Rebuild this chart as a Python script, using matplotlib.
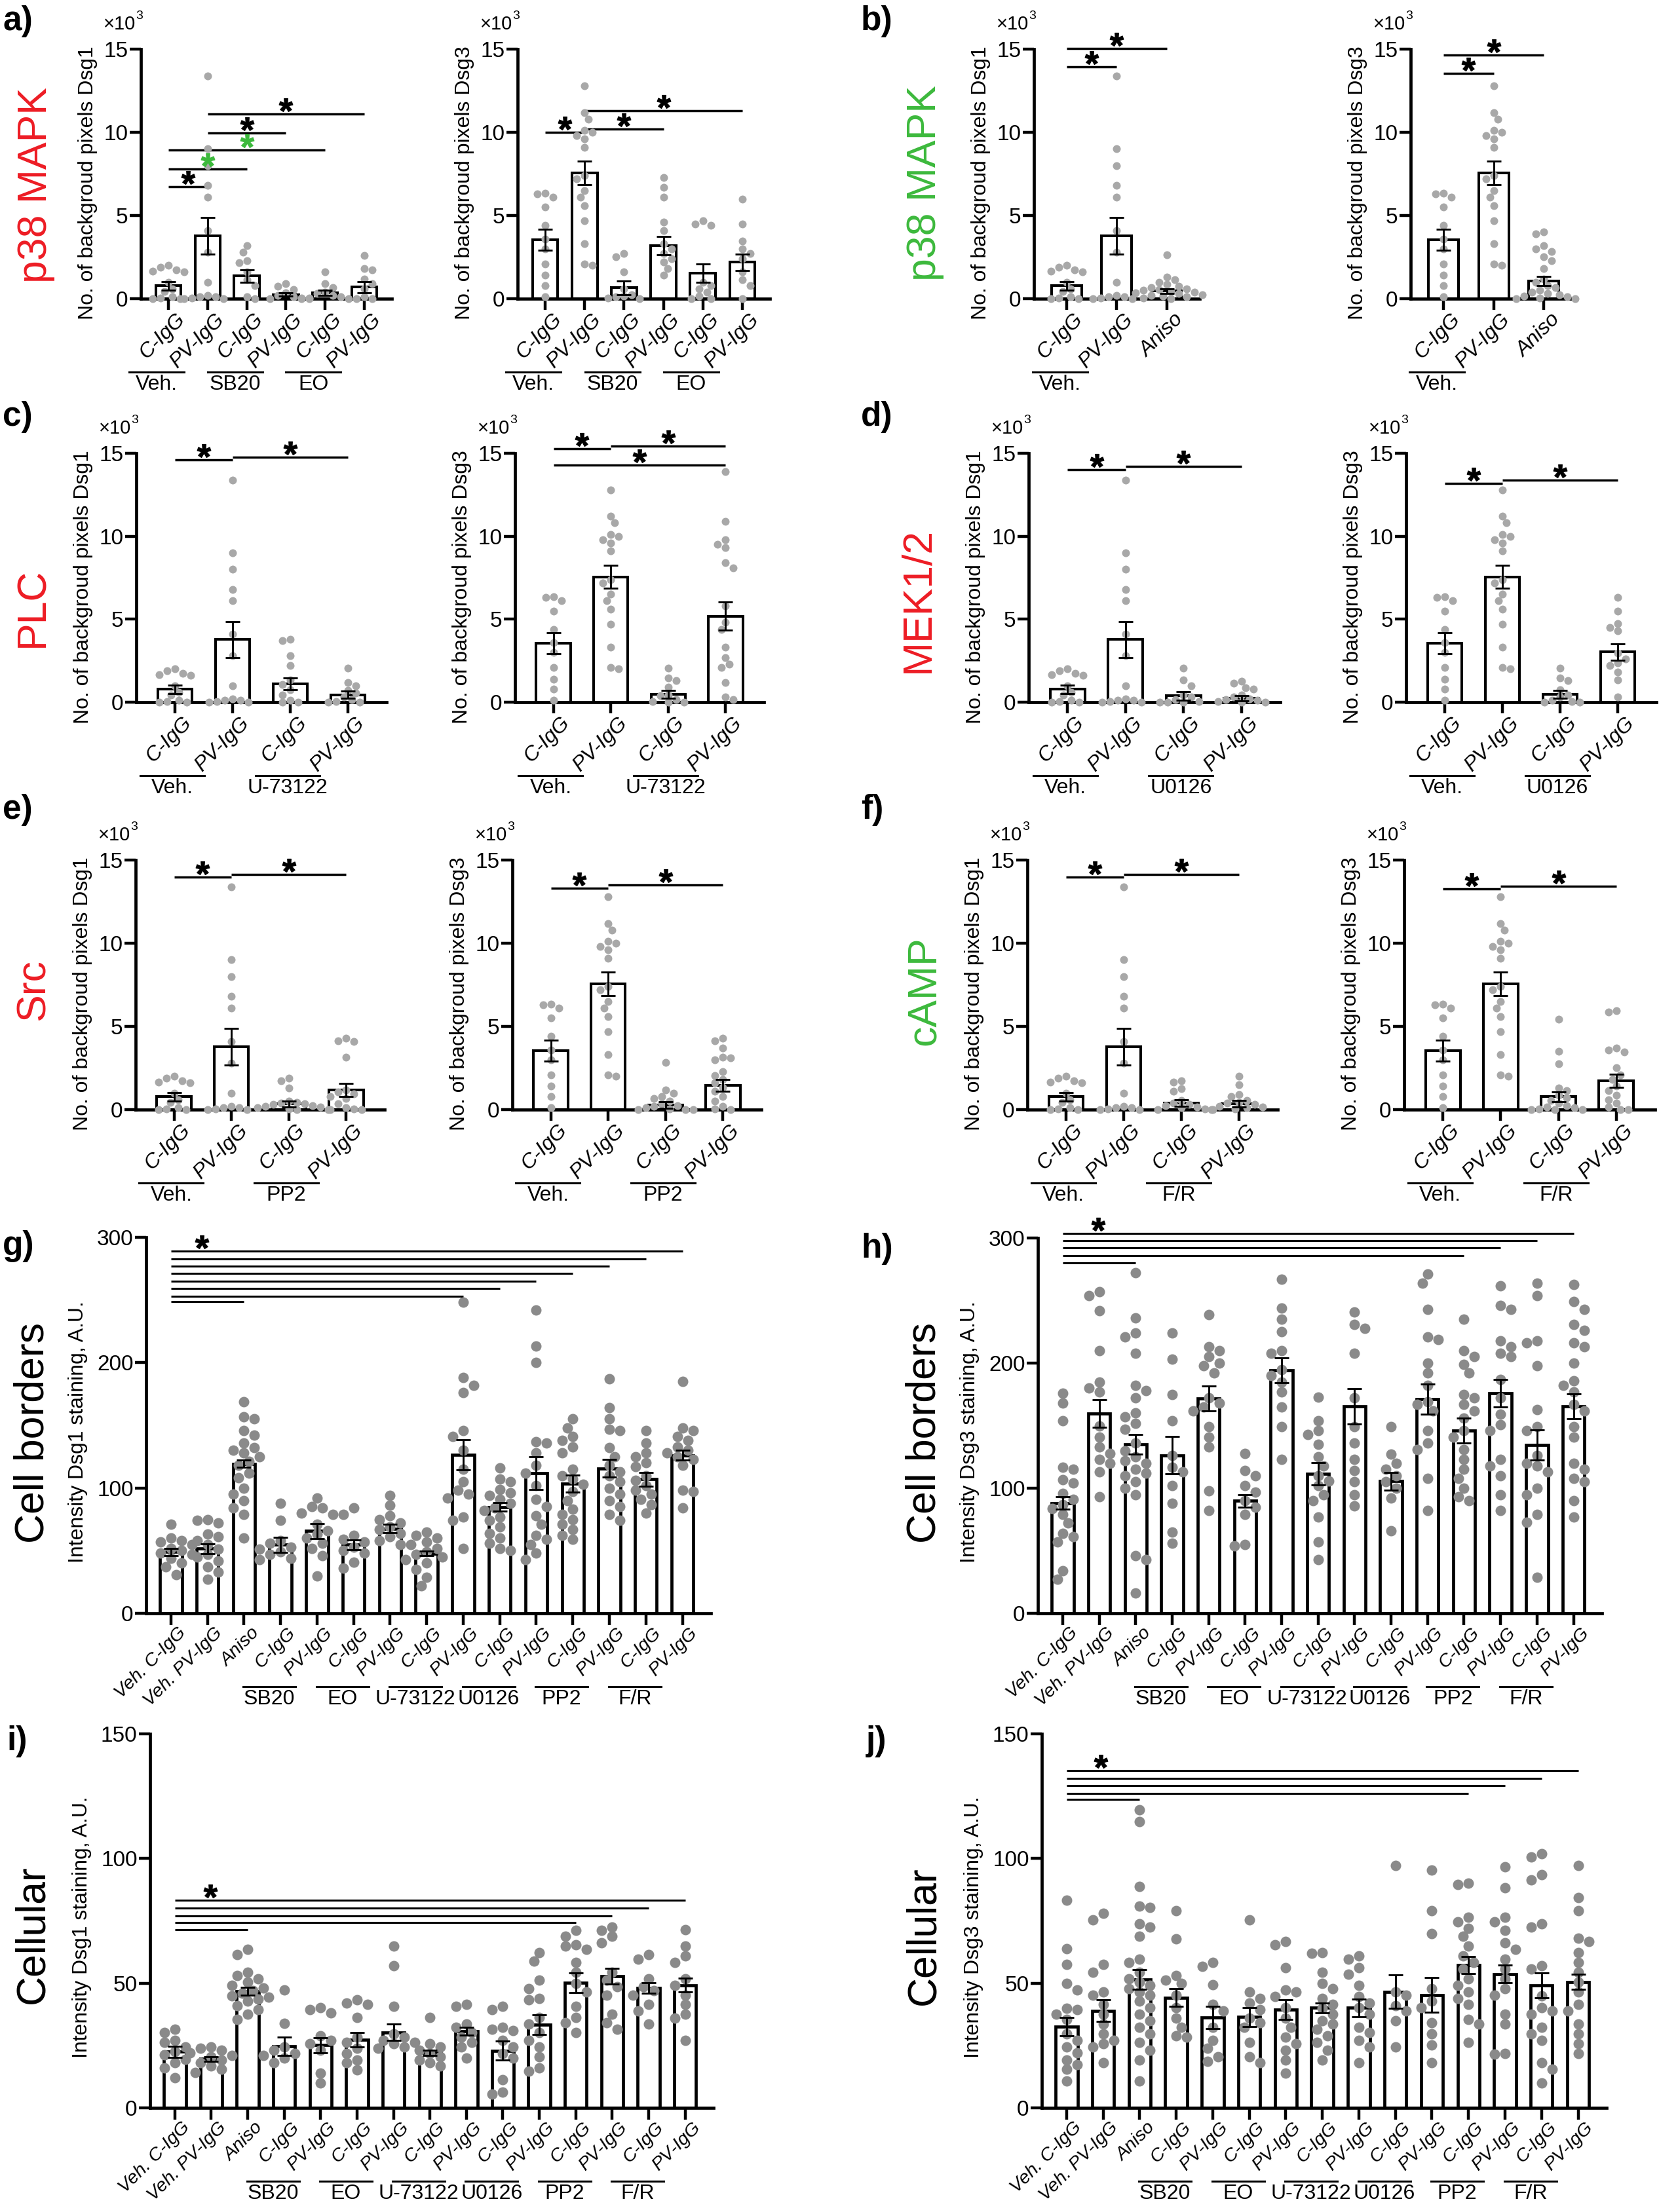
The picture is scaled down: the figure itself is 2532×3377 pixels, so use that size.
import numpy as np
import matplotlib
matplotlib.use("Agg")
import matplotlib.pyplot as plt
from matplotlib.transforms import ScaledTranslation, blended_transform_factory
from matplotlib.textpath import TextPath
from matplotlib.font_manager import FontProperties
from matplotlib.path import Path

W, H, DPI = 2532, 3377, 100
RED, GREEN = "#ED1C24", "#3CB93C"
SANS = ["Liberation Sans", "DejaVu Sans"]
NARROW = ["Liberation Sans Narrow", "Liberation Sans", "DejaVu Sans"]
plt.rcParams["font.family"] = SANS

# ---------------------------------------------------------------------------
# data: background pixels (x10^3), shared vehicle controls
# ---------------------------------------------------------------------------
veh_c_dsg1 = [2.0, 1.9, 1.75, 1.65, 1.6, 1.0, 0.6, 0.45, 0.1, 0.05, 0.0, 0.0]
veh_pv_dsg1 = [13.4, 9.0, 8.0, 6.8, 6.1, 4.1, 2.8, 1.0, 0.2, 0.1, 0.1, 0.05, 0.0, 0.0]
veh_c_dsg3 = [6.35, 6.3, 6.1, 5.5, 4.4, 3.6, 3.0, 2.1, 1.4, 0.8, 0.1]
veh_pv_dsg3 = [12.8, 11.2, 10.8, 10.1, 10.0, 9.8, 9.6, 9.1, 7.4, 7.2, 6.5, 6.1,
               5.6, 4.7, 3.3, 2.1, 2.0]
veh_means_dsg1 = [0.77, 3.77]
veh_sems_dsg1 = [0.27, 1.1]
veh_means_dsg3 = [3.55, 7.55]
veh_sems_dsg3 = [0.62, 0.7]

# a) p38 MAPK inhibitors
a_dsg1_means = veh_means_dsg1 + [1.36, 0.25, 0.36, 0.69]
a_dsg1_sems = veh_sems_dsg1 + [0.38, 0.1, 0.15, 0.35]
a_dsg1_dots = [veh_c_dsg1, veh_pv_dsg1,
               [3.2, 2.8, 2.3, 2.15, 1.6, 1.15, 0.8, 0.1, 0.0],
               [0.9, 0.75, 0.55, 0.35, 0.2, 0.1, 0.05, 0.0, 0.0],
               [1.6, 0.9, 0.65, 0.4, 0.3, 0.2, 0.1, 0.05, 0.0, 0.0],
               [2.6, 1.8, 1.75, 1.2, 0.9, 0.6, 0.1, 0.0, 0.0]]
a_dsg3_means = veh_means_dsg3 + [0.65, 3.19, 1.52, 2.19]
a_dsg3_sems = veh_sems_dsg3 + [0.4, 0.55, 0.55, 0.48]
a_dsg3_dots = [veh_c_dsg3, veh_pv_dsg3,
               [2.7, 2.5, 1.6, 0.6, 0.25, 0.15, 0.1, 0.05, 0.0],
               [7.3, 6.7, 6.1, 4.6, 4.1, 3.3, 3.0, 2.7, 2.4, 2.2, 1.8, 1.4],
               [4.7, 4.5, 4.4, 1.0, 0.8, 0.6, 0.4, 0.15, 0.0, 0.0],
               [6.0, 4.5, 3.45, 3.0, 2.7, 2.4, 1.6, 1.15, 0.8, 0.0]]
a_dsg1_sig = [(0, 1, 6.73, "k"), (0, 2, 7.81, GREEN), (0, 4, 8.95, GREEN),
              (1, 3, 9.98, "k"), (1, 5, 11.1, "k")]
a_dsg3_sig = [(0, 1, 10.0, "k"), (1, 3, 10.2, "k"), (1, 5, 11.3, "k")]

# b) p38 MAPK activation (anisomycin)
b_dsg1_means = veh_means_dsg1 + [0.46]
b_dsg1_sems = veh_sems_dsg1 + [0.15]
b_dsg1_dots = [veh_c_dsg1, veh_pv_dsg1,
               [2.65, 1.3, 1.15, 1.0, 0.85, 0.75, 0.65, 0.6, 0.55, 0.5, 0.45, 0.4,
                0.35, 0.3, 0.25, 0.2, 0.15, 0.1, 0.05, 0.0]]
b_dsg3_means = veh_means_dsg3 + [1.06]
b_dsg3_sems = veh_sems_dsg3 + [0.27]
b_dsg3_dots = [veh_c_dsg3, veh_pv_dsg3,
               [4.0, 3.9, 3.2, 3.0, 2.85, 2.5, 2.3, 1.8, 1.2, 1.0, 0.8, 0.65, 0.5,
                0.4, 0.3, 0.25, 0.15, 0.1, 0.05, 0.0, 0.0]]
b_dsg1_sig = [(0, 1, 13.94, "k"), (0, 2, 15.03, "k")]
b_dsg3_sig = [(0, 1, 13.56, "k"), (0, 2, 14.64, "k")]

# c) PLC (U-73122)
c_dsg1_means = veh_means_dsg1 + [1.1, 0.45]
c_dsg1_sems = veh_sems_dsg1 + [0.35, 0.22]
c_dsg1_dots = [veh_c_dsg1, veh_pv_dsg1,
               [3.8, 3.7, 2.8, 2.2, 1.35, 1.05, 0.75, 0.45, 0.1, 0.0, 0.0],
               [2.05, 1.2, 1.0, 0.7, 0.55, 0.3, 0.15, 0.05, 0.0, 0.0]]
c_dsg3_means = veh_means_dsg3 + [0.48, 5.18]
c_dsg3_sems = veh_sems_dsg3 + [0.24, 0.85]
c_dsg3_dots = [veh_c_dsg3, veh_pv_dsg3,
               [2.05, 1.45, 1.3, 0.9, 0.45, 0.4, 0.15, 0.05, 0.0, 0.0],
               [13.9, 10.9, 9.8, 9.5, 9.3, 8.4, 8.1, 5.8, 4.8, 4.4, 3.3, 2.7, 2.3,
                2.1, 1.2, 0.3, 0.15]]
c_dsg1_sig = [(0, 1, 14.62, "k"), (1, 3, 14.77, "k")]
c_dsg3_sig = [(0, 1, 15.29, "k"), (1, 3, 15.45, "k"), (0, 3, 14.3, "k")]

# d) MEK1/2 (U0126)
d_dsg1_means = veh_means_dsg1 + [0.38, 0.23]
d_dsg1_sems = veh_sems_dsg1 + [0.25, 0.17]
d_dsg1_dots = [veh_c_dsg1, veh_pv_dsg1,
               [2.05, 1.35, 1.0, 0.45, 0.3, 0.15, 0.05, 0.0, 0.0, 0.0],
               [1.25, 1.15, 0.85, 0.8, 0.45, 0.3, 0.2, 0.15, 0.1, 0.05, 0.0, 0.0]]
d_dsg3_means = veh_means_dsg3 + [0.48, 3.02]
d_dsg3_sems = veh_sems_dsg3 + [0.24, 0.5]
d_dsg3_dots = [veh_c_dsg3, veh_pv_dsg3,
               [2.05, 1.45, 1.3, 0.75, 0.45, 0.3, 0.1, 0.05, 0.0, 0.0],
               [6.3, 5.5, 4.75, 4.5, 4.3, 2.95, 2.6, 2.35, 2.2, 1.8, 1.35, 0.3]]
d_dsg1_sig = [(0, 1, 14.0, "k"), (1, 3, 14.2, "k")]
d_dsg3_sig = [(0, 1, 13.2, "k"), (1, 3, 13.4, "k")]

# e) Src (PP2)
e_dsg1_means = veh_means_dsg1 + [0.34, 1.17]
e_dsg1_sems = veh_sems_dsg1 + [0.18, 0.4]
e_dsg1_dots = [veh_c_dsg1, veh_pv_dsg1,
               [1.9, 1.75, 1.3, 0.5, 0.45, 0.4, 0.35, 0.3, 0.25, 0.2, 0.15, 0.1,
                0.05, 0.0, 0.0],
               [4.3, 4.15, 4.1, 3.15, 1.2, 1.05, 0.95, 0.8, 0.65, 0.35, 0.1, 0.05,
                0.0, 0.0]]
e_dsg3_means = veh_means_dsg3 + [0.27, 1.47]
e_dsg3_sems = veh_sems_dsg3 + [0.2, 0.35]
e_dsg3_dots = [veh_c_dsg3, veh_pv_dsg3,
               [2.85, 1.2, 1.0, 0.8, 0.65, 0.5, 0.35, 0.25, 0.2, 0.1, 0.05, 0.0,
                0.0, 0.0],
               [4.3, 4.15, 3.7, 3.15, 3.1, 3.0, 2.3, 2.05, 1.8, 1.6, 1.35, 1.1, 0.8,
                0.5, 0.2, 0.05, 0.0]]
e_dsg1_sig = [(0, 1, 13.96, "k"), (1, 3, 14.14, "k")]
e_dsg3_sig = [(0, 1, 13.32, "k"), (1, 3, 13.52, "k")]

# f) cAMP (F/R)
f_dsg1_means = veh_means_dsg1 + [0.39, 0.36]
f_dsg1_sems = veh_sems_dsg1 + [0.2, 0.2]
f_dsg1_dots = [veh_c_dsg1, veh_pv_dsg1,
               [1.75, 1.65, 1.25, 1.1, 0.55, 0.4, 0.3, 0.25, 0.15, 0.1, 0.05, 0.0,
                0.0],
               [2.0, 1.5, 0.9, 0.8, 0.55, 0.45, 0.4, 0.3, 0.2, 0.15, 0.1, 0.05, 0.0]]
f_dsg3_means = veh_means_dsg3 + [0.78, 1.72]
f_dsg3_sems = veh_sems_dsg3 + [0.3, 0.4]
f_dsg3_dots = [veh_c_dsg3, veh_pv_dsg3,
               [5.45, 3.5, 2.75, 1.3, 1.15, 0.85, 0.7, 0.55, 0.4, 0.25, 0.15, 0.1,
                0.05, 0.0, 0.0, 0.0],
               [5.95, 5.85, 3.7, 3.6, 3.45, 2.5, 2.1, 1.8, 1.4, 1.15, 0.85, 0.6,
                0.4, 0.15, 0.0, 0.0]]
f_dsg1_sig = [(0, 1, 13.96, "k"), (1, 3, 14.14, "k")]
f_dsg3_sig = [(0, 1, 13.25, "k"), (1, 3, 13.44, "k")]

# ---------------------------------------------------------------------------
# data: staining intensity (A.U.), 15 conditions
# ---------------------------------------------------------------------------
big_labels = ["Veh. C-IgG", "Veh. PV-IgG", "Aniso"] + ["C-IgG", "PV-IgG"] * 6
big_groups = [("SB20", 3, 4), ("EO", 5, 6), ("U-73122", 7, 8),
              ("U0126", 9, 10), ("PP2", 11, 12), ("F/R", 13, 14)]

g_means = [49, 51.6, 119.4, 54.7, 65.8, 54.7, 67.6, 47.8, 126.6, 84.8, 111.7,
           103.5, 115.6, 107.1, 126.1]
g_sems = [3, 4, 3, 6, 6, 4, 3.5, 2, 12, 3.5, 13, 7, 7, 5.5, 4]
g_dots = [
    [71, 60, 58, 57, 55, 52, 50, 48, 47, 44, 40, 37, 31],
    [75, 74, 72, 63, 61, 58, 55, 51, 47, 45, 42, 37, 33, 27],
    [169, 157, 155, 146, 142, 136, 132, 130, 128, 125, 121, 118, 112, 108, 100,
     95, 90, 84, 79, 60],
    [88, 74, 58, 56, 53, 51, 49, 47, 44, 43],
    [92, 85, 84, 80, 79, 71, 66, 63, 60, 56, 52, 46, 30],
    [84, 79, 62, 59, 57, 53, 50, 48, 41, 36],
    [94, 86, 78, 75, 72, 69, 67, 64, 61, 58, 55],
    [65, 62, 60, 57, 55, 52, 49, 47, 45, 43, 40, 35, 29, 22],
    [248, 188, 182, 176, 146, 141, 130, 115, 105, 98, 95, 92, 77, 74, 52],
    [116, 107, 105, 99, 96, 94, 91, 88, 84, 82, 77, 74, 69, 64, 60, 56, 52, 50],
    [242, 213, 200, 137, 136, 128, 118, 112, 102, 91, 85, 78, 71, 62, 59, 55,
     48, 43],
    [155, 148, 141, 138, 133, 128, 115, 110, 107, 103, 97, 90, 83, 79, 75, 71,
     67, 62, 59],
    [187, 164, 155, 147, 146, 132, 125, 118, 113, 110, 105, 100, 95, 90, 85, 79,
     74],
    [146, 136, 128, 125, 120, 117, 110, 106, 102, 98, 95, 91, 87, 80],
    [185, 148, 146, 141, 138, 133, 130, 128, 125, 123, 118, 98, 97, 84],
]
g_sig = [(0, 14, 289), (0, 13, 283), (0, 12, 277), (0, 11, 271), (0, 10, 265),
         (0, 9, 259), (0, 8, 253), (0, 2, 249)]

h_means = [88.2, 159.5, 135, 126.3, 171.9, 90, 194.2, 111.4, 165.4, 105.5,
           171.3, 146, 175.7, 134.5, 165.4]
h_sems = [5, 11, 8, 15, 10, 5, 10, 9, 14, 7, 12, 10, 11, 12, 10]
h_dots = [
    [176, 168, 154, 117, 115, 107, 104, 96, 91, 87, 84, 79, 72, 64, 61, 57, 34, 27],
    [257, 254, 242, 210, 185, 180, 177, 150, 141, 133, 128, 123, 120, 113, 93],
    [272, 236, 224, 221, 208, 182, 178, 172, 160, 157, 152, 147, 136, 130, 125,
     122, 120, 115, 112, 110, 105, 100, 95, 46, 43, 16],
    [224, 203, 175, 154, 126, 117, 113, 102, 88, 65, 56],
    [239, 213, 210, 205, 200, 198, 192, 172, 168, 165, 162, 149, 141, 133, 98, 82],
    [128, 114, 110, 102, 97, 90, 85, 79, 55, 54],
    [267, 244, 235, 225, 210, 208, 195, 190, 185, 177, 165, 149, 123],
    [173, 154, 146, 143, 135, 125, 118, 110, 106, 102, 95, 90, 77, 57, 43],
    [241, 231, 228, 208, 172, 149, 136, 123, 114, 105, 95, 86],
    [149, 127, 120, 115, 110, 105, 100, 92, 66],
    [271, 264, 243, 221, 219, 200, 192, 182, 169, 167, 162, 146, 136, 131, 108, 82],
    [235, 210, 205, 199, 192, 175, 172, 167, 162, 156, 146, 141, 131, 123, 115,
     108, 100, 93, 90],
    [262, 246, 243, 218, 213, 208, 205, 187, 172, 159, 151, 146, 123, 118, 110,
     95, 82],
    [264, 254, 218, 216, 198, 163, 149, 146, 126, 120, 118, 113, 100, 95, 79, 73, 29],
    [263, 249, 243, 231, 226, 216, 213, 200, 186, 182, 177, 167, 162, 149, 141,
     120, 115, 108, 105, 90, 77],
]
h_sig = [(0, 14, 303.8), (0, 13, 297.9), (0, 12, 292.3), (0, 11, 285.8),
         (0, 2, 279.9)]

i_means = [22.5, 19.6, 46.8, 24.7, 25.1, 27.3, 30.3, 22.1, 30.7, 22.9, 33.3,
           50.2, 52.8, 48.1, 49.2]
i_sems = [2.3, 1, 1.5, 3.7, 3, 3, 3.3, 1, 1.6, 3.8, 3.9, 3.9, 3.1, 2, 2.8]
i_dots = [
    [31.6, 30.3, 27.1, 26.4, 24.5, 22.5, 21.2, 19.5, 18.0, 16.0, 12.1],
    [24.5, 23.8, 23.2, 22.0, 21.0, 20.6, 19.3, 18.0, 16.7, 15.4, 14.3],
    [63.5, 61.5, 54.4, 53, 51.8, 50.5, 49.2, 48, 47, 46, 45, 44.5, 43.5, 42.7,
     41, 39.5, 37.5, 35.5],
    [47.2, 33.8, 24.5, 23.2, 21.9, 21.0, 19.9, 18.2],
    [40.1, 39.5, 38.1, 29, 27, 25.8, 23.2, 14.0, 10.1],
    [43.3, 42.0, 41.4, 36.2, 28.4, 26.4, 23.8, 21.9, 19.3, 18.0, 15.3],
    [65, 57, 40.7, 29.7, 28.4, 27.1, 26.4, 25.8, 24.5, 23.8],
    [36.2, 25.8, 24.5, 23.2, 21.9, 20.6, 19.3, 18.0, 16.7],
    [41.6, 40.7, 33.6, 32.3, 30.3, 28.4, 26.4, 24.5, 19.9],
    [40.7, 39.4, 32.3, 31.6, 31.0, 27.1, 24.5, 21.9, 20, 11.4, 6.2, 5.6],
    [62.2, 58.9, 51.1, 47.9, 44.0, 43.3, 36.2, 33.6, 30.3, 27.1, 24.5, 20.6,
     16.0, 14.7],
    [71.3, 68.7, 65.4, 64.8, 63.5, 58.3, 54.4, 49.8, 46.6, 40.7, 36.2, 34.2, 30.3],
    [72.6, 71.3, 68.7, 66.1, 54.4, 51.1, 48.5, 45.3, 37.5, 34.2, 31.6],
    [61.5, 59.6, 51.8, 48.5, 47, 45.3, 41.4, 38.8, 33.6],
    [71.5, 64.8, 60.9, 58.3, 51.8, 49.2, 45.3, 41.4, 37.5, 36, 27.1],
]
i_sig = [(0, 14, 83.3), (0, 13, 80.1), (0, 12, 77.1), (0, 11, 74.3), (0, 2, 71.5)]

j_means = [32.5, 39, 51.5, 44.2, 36.2, 36.4, 39.4, 40.1, 40.1, 46.6, 45.3, 57.2,
           53.7, 49.2, 50.5]
j_sems = [3.7, 4.3, 4, 3.6, 4.5, 3.9, 4, 2, 3.5, 6.8, 7, 3.4, 3.5, 5, 3]
j_dots = [
    [83.3, 63.9, 57.6, 49.8, 47.2, 40, 39.4, 37.5, 35.5, 29.7, 27.1, 24.5, 22,
     19.3, 17.3, 15.4, 10.8],
    [78.1, 75.5, 57.6, 54.4, 46.6, 45.3, 41.4, 37.5, 33.6, 29.7, 27.1, 25.8,
     24.5, 18.0],
    [119.4, 114.9, 88.9, 81.0, 80.3, 73.9, 72.6, 68.7, 59.6, 58.3, 54.4, 51.8,
     50.5, 49.2, 47.9, 46.6, 45.3, 42.7, 40.1, 37.5, 34.9, 32.3, 29.7, 26.4,
     23.2, 19.3, 10.8],
    [79.1, 67.8, 53.1, 51.1, 49.8, 45.3, 40.1, 36, 32.3, 29.0, 28.4],
    [58.3, 56.7, 49.4, 41.4, 38.8, 32.3, 27.1, 23.8, 20.6, 18.6],
    [75.5, 46.6, 44.0, 42.0, 39.4, 36, 34.2, 32.3, 26.4, 20.6, 18.0],
    [66.7, 65.4, 56.3, 47.2, 46.6, 44.6, 40.1, 36, 32.3, 28.4, 25.8, 23.2, 19.3,
     14.0],
    [62.2, 62, 54.4, 49.8, 47.9, 44.0, 41.4, 40, 37.5, 35, 33.6, 31.6, 29, 26.4,
     23.2, 19.3],
    [60.9, 59.6, 56.3, 53.7, 49.2, 44.6, 42, 40.1, 37.5, 32.3, 30.3, 27.1, 24.5,
     18.0],
    [97.3, 46.6, 45.3, 41, 38.8, 34.9, 24.5],
    [95.4, 79.1, 70.0, 47.9, 42.7, 40.1, 34.2, 29.7, 25.1, 18.0],
    [90.2, 89.5, 76.5, 74.5, 72, 68.7, 64.8, 61, 58.3, 55.7, 51.8, 49.2, 46.6,
     44, 41.4, 35.5, 33.6, 26.4],
    [96.7, 88.2, 76.5, 74.5, 71.3, 66.1, 63.5, 59.6, 55.7, 51.8, 47.9, 45.3,
     37.5, 33.6, 21.9, 21.5],
    [101.9, 100.5, 93.4, 91.5, 73.9, 72.6, 57.0, 55.7, 45, 40.1, 38.8, 37.5,
     32.3, 29.7, 27.1, 18.0, 15.4, 10.1],
    [97.3, 84.3, 79.1, 68.0, 66.7, 62.2, 58.3, 54.4, 50.5, 46.6, 41.4, 38.8,
     33.6, 29.7, 25.8, 21.9],
]
j_sig = [(0, 14, 135.3), (0, 13, 132.2), (0, 12, 129.2), (0, 11, 126.2),
         (0, 2, 123.6)]

# ---------------------------------------------------------------------------
fig = plt.figure(figsize=(W / DPI, H / DPI), dpi=DPI)
fig.patch.set_facecolor("white")

# asterisk glyph as a marker path, centred on its ink box
_tp = TextPath((0, 0), "*", size=1, prop=FontProperties(family=NARROW, weight="bold"))
_ext = _tp.get_extents()
_v = _tp.vertices - [(_ext.x0 + _ext.x1) / 2, (_ext.y0 + _ext.y1) / 2]
_v[_tp.codes == Path.CLOSEPOLY] = 0.0
STAR = Path(_v, _tp.codes)


def shift(dx, dy):
    # pixel offset, dy > 0 means downwards
    return ScaledTranslation(dx / DPI, -dy / DPI, fig.dpi_scale_trans)


def swarm(vals, ppy, d):
    # simple deterministic beeswarm, returns x offsets in pixels
    placed, offs = [], []
    for n, v in enumerate(vals):
        y = v * ppy
        k, found = 0, None
        while found is None:
            if k == 0:
                cands = [0.0]
            else:
                s = 1 if n % 2 == 0 else -1
                cands = [s * k * 0.5 * d, -s * k * 0.5 * d]
            for c in cands:
                if all((c - px) ** 2 + (y - py) ** 2 >= (0.92 * d) ** 2
                       for px, py in placed):
                    found = c
                    break
            k += 1
        placed.append((found, y))
        offs.append(found)
    return np.array(offs)


def star(ax, x, y, color):
    ax.plot([x], [y], marker=STAR, ms=15, mfc=color, mec=color, mew=0.8,
            ls="none", transform=ax.transData + shift(0, -14), clip_on=False,
            zorder=5)


def bar_panel(x0, x1, top, bottom, xlim, ymax, yticks, means, sems, dots,
              xlabels, groups, sigs, ylabel, big=False, xstar=None):
    ax = fig.add_axes([x0 / W, 1 - bottom / H, (x1 - x0) / W, (bottom - top) / H])
    ax.patch.set_visible(False)
    n = len(means)
    pos = np.arange(n)
    ppx = (x1 - x0) / (xlim[1] - xlim[0])
    ppy = (bottom - top) / ymax
    axh = bottom - top

    bw = 0.6 if (big or n != 6) else 0.64
    ax.bar(pos, means, width=bw, color="white", edgecolor="black",
           lw=3.4 if big else 2.9, zorder=2)
    d = 16 if big else 12
    dot_c = "#8A8A8A" if big else "#A8A8A8"
    for i, vals in enumerate(dots):
        off = swarm(vals, ppy, d)
        ax.scatter(i + off / ppx, vals, s=(d * 0.72) ** 2, color=dot_c, lw=0,
                   zorder=3, clip_on=False)
    ax.errorbar(pos, means, yerr=sems, fmt="none", ecolor="black", elinewidth=2.1,
                capsize=8, capthick=2.1, zorder=4)

    ax.set_xlim(*xlim)
    ax.set_ylim(0, ymax)
    for s in ("top", "right"):
        ax.spines[s].set_visible(False)
    for s in ("left", "bottom"):
        ax.spines[s].set_linewidth(3.4)
    ax.set_yticks(yticks)
    ax.set_yticklabels([str(t) for t in yticks], family=NARROW, fontsize=24)
    ax.tick_params(axis="y", length=12, width=3.2, pad=2)
    ax.set_xticks(pos)
    ax.set_xticklabels([])
    ax.tick_params(axis="x", length=13 if big else 12, width=3.2)

    # rotated italic category labels
    tr = blended_transform_factory(ax.transData, ax.transAxes)
    fs_x = 20.5 if big else 23
    for i, lab in enumerate(xlabels):
        ax.text(i, 0, lab, transform=tr + shift(10, 17), rotation=45, ha="right",
                va="top", rotation_mode="anchor", style="italic", fontsize=fs_x)

    # treatment group lines under the labels
    half = 40 if big else (42 if n in (3, 6) else 49)
    dx = (-45 if big else -48) / ppx
    for name, a, b in groups:
        xm = (a + b) / 2 + dx
        ax.plot([xm - half / ppx, xm + half / ppx], [-112 / axh] * 2, transform=tr,
                color="black", lw=2.2, clip_on=False)
        ax.text(xm, -131 / axh, name, transform=tr, ha="center", va="center",
                family=NARROW, fontsize=23)

    # significance brackets
    for sg in sigs:
        i, j, y = sg[0], sg[1], sg[2]
        c = sg[3] if len(sg) > 3 else "black"
        ax.plot([i, j], [y, y], color="black", lw=2.2 if big else 2.5,
                clip_on=False, solid_capstyle="butt")
        if not big:
            star(ax, (i + j) / 2, y, c)
    if big:
        star(ax, xstar, sigs[0][2], "black")

    # y label
    fig.text((x0 - (104 if big else 81)) / W,
             1 - ((top + bottom) / 2 + (10 if big else 14)) / H,
             ylabel, rotation=90, ha="center", va="center", fontsize=23)
    if not big:
        t = fig.text((x0 - 57) / W, 1 - (top - 38) / H, "×10", ha="left",
                     va="center", family=NARROW, fontsize=21)
        ax.annotate("3", xy=(1, 0.95), xycoords=t, ha="left", va="center",
                    family=NARROW, fontsize=14)
    return ax


YL1 = "No. of backgroud pixels Dsg1"
YL3 = "No. of backgroud pixels Dsg3"
T15 = [0, 5, 10, 15]
lab6 = ["C-IgG", "PV-IgG"] * 3
lab4 = ["C-IgG", "PV-IgG"] * 2
lab3 = ["C-IgG", "PV-IgG", "Aniso"]
xl6, xl3, xl4, xlb = (-0.7, 5.7), (-0.65, 2.66), (-0.67, 3.67), (-0.68, 14.78)

# row 1
grp_a = [("Veh.", 0, 1), ("SB20", 2, 3), ("EO", 4, 5)]
bar_panel(215, 598, 75, 456, xl6, 15, T15, a_dsg1_means, a_dsg1_sems, a_dsg1_dots,
          lab6, grp_a, a_dsg1_sig, YL1)
bar_panel(790, 1175, 75, 456, xl6, 15, T15, a_dsg3_means, a_dsg3_sems, a_dsg3_dots,
          lab6, grp_a, a_dsg3_sig, YL3)
bar_panel(1578, 1831, 75, 456, xl3, 15, T15, b_dsg1_means, b_dsg1_sems, b_dsg1_dots,
          lab3, [("Veh.", 0, 1)], b_dsg1_sig, YL1)
bar_panel(2153, 2407, 75, 456, xl3, 15, T15, b_dsg3_means, b_dsg3_sems, b_dsg3_dots,
          lab3, [("Veh.", 0, 1)], b_dsg3_sig, YL3)

# row 2
bar_panel(208, 590, 692, 1072, xl4, 15, T15, c_dsg1_means, c_dsg1_sems, c_dsg1_dots,
          lab4, [("Veh.", 0, 1), ("U-73122", 2, 3)], c_dsg1_sig, YL1)
bar_panel(786, 1166, 692, 1072, xl4, 15, T15, c_dsg3_means, c_dsg3_sems, c_dsg3_dots,
          lab4, [("Veh.", 0, 1), ("U-73122", 2, 3)], c_dsg3_sig, YL3)
bar_panel(1570, 1954, 692, 1072, xl4, 15, T15, d_dsg1_means, d_dsg1_sems, d_dsg1_dots,
          lab4, [("Veh.", 0, 1), ("U0126", 2, 3)], d_dsg1_sig, YL1)
bar_panel(2146, 2528, 692, 1072, xl4, 15, T15, d_dsg3_means, d_dsg3_sems, d_dsg3_dots,
          lab4, [("Veh.", 0, 1), ("U0126", 2, 3)], d_dsg3_sig, YL3)

# row 3
bar_panel(207, 587, 1313, 1694, xl4, 15, T15, e_dsg1_means, e_dsg1_sems, e_dsg1_dots,
          lab4, [("Veh.", 0, 1), ("PP2", 2, 3)], e_dsg1_sig, YL1)
bar_panel(782, 1162, 1313, 1694, xl4, 15, T15, e_dsg3_means, e_dsg3_sems, e_dsg3_dots,
          lab4, [("Veh.", 0, 1), ("PP2", 2, 3)], e_dsg3_sig, YL3)
bar_panel(1568, 1950, 1313, 1694, xl4, 15, T15, f_dsg1_means, f_dsg1_sems, f_dsg1_dots,
          lab4, [("Veh.", 0, 1), ("F/R", 2, 3)], f_dsg1_sig, YL1)
bar_panel(2143, 2526, 1313, 1694, xl4, 15, T15, f_dsg3_means, f_dsg3_sems, f_dsg3_dots,
          lab4, [("Veh.", 0, 1), ("F/R", 2, 3)], f_dsg3_sig, YL3)

# rows 4-5
bar_panel(223, 1085, 1889, 2463, xlb, 300, [0, 100, 200, 300], g_means, g_sems, g_dots,
          big_labels, big_groups, g_sig, "Intensity Dsg1 staining, A.U.", big=True,
          xstar=0.85)
bar_panel(1584, 2445, 1890, 2463, xlb, 300, [0, 100, 200, 300], h_means, h_sems, h_dots,
          big_labels, big_groups, h_sig, "Intensity Dsg3 staining, A.U.", big=True,
          xstar=0.97)
bar_panel(229, 1089, 2647, 3218, xlb, 150, [0, 50, 100, 150], i_means, i_sems, i_dots,
          big_labels, big_groups, i_sig, "Intensity Dsg1 staining, A.U.", big=True,
          xstar=0.97)
bar_panel(1590, 2452, 2647, 3218, xlb, 150, [0, 50, 100, 150], j_means, j_sems, j_dots,
          big_labels, big_groups, j_sig, "Intensity Dsg3 staining, A.U.", big=True,
          xstar=0.94)

# pathway / compartment labels
side_labels = [("p38 MAPK", 54, 283, RED), ("p38 MAPK", 1412, 280, GREEN),
               ("PLC", 50, 927, RED), ("MEK1/2", 1401, 916, RED),
               ("Src", 51, 1511, RED), ("cAMP", 1410, 1513, GREEN),
               ("Cell borders", 50, 2187, "black"), ("Cell borders", 1411, 2187, "black"),
               ("Cellular", 50, 2953, "black"), ("Cellular", 1410, 2955, "black")]
for txt, x, y, col in side_labels:
    fig.text(x / W, 1 - y / H, txt, rotation=90, ha="center", va="center",
             fontsize=45, color=col)

panel_letters = [("a)", 4, 8), ("b)", 1314, 8), ("c)", 4, 612), ("d)", 1314, 612),
                 ("e)", 4, 1212), ("f)", 1314, 1212), ("g)", 4, 1878),
                 ("h)", 1314, 1882), ("i)", 10, 2634), ("j)", 1322, 2634)]
for txt, x, y in panel_letters:
    fig.text(x / W, 1 - y / H, txt, ha="left", va="top", fontsize=37,
             fontweight="bold", family=NARROW)

fig.savefig("out.png", dpi=DPI, facecolor="white")
